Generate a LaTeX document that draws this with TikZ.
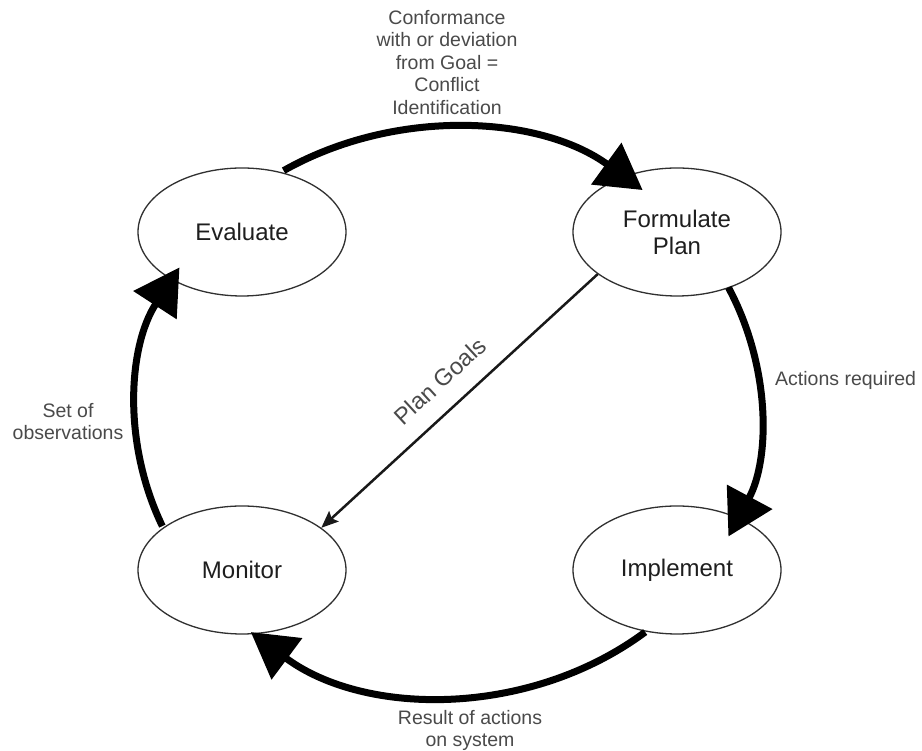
\documentclass[tikz,border=0pt]{standalone}
\usepackage{fontspec}
\setmainfont{Liberation Sans}
\usetikzlibrary{arrows.meta,shapes.geometric,calc}
\definecolor{labelgray}{HTML}{4A4A4A}
\definecolor{textdark}{HTML}{1E1E1E}
\definecolor{edgegray}{HTML}{303030}
\begin{document}
\begin{tikzpicture}[x=1pt,y=1pt,
  phase/.style={ellipse, draw=edgegray, line width=1.3pt, minimum width=208pt,
    minimum height=128pt, inner sep=0pt, font=\fontsize{24}{27}\selectfont,
    text=textdark, align=center},
  cyc/.style={line width=7pt, -{Triangle[length=45pt,width=50pt]}},
  goalline/.style={line width=2.5pt, draw=black!90,
    -{Stealth[length=17pt,width=14pt,inset=3pt]}},
  lbl/.style={font=\fontsize{19.5}{22.5}\selectfont, text=labelgray,
    align=center, inner sep=0pt}]
\fill[white] (0,0) rectangle (922,751);
\useasboundingbox (0,0) rectangle (922,751);

% phase nodes
\node[phase] (evaluate)  at (242,519) {Evaluate};
\node[phase] (plan)      at (677,519) {Formulate\\Plan};
\node[phase] (monitor)   at (242,181) {Monitor};
\node[phase] (implement) at (677,181) {Implement};

% centre of the big cycle ellipse
\coordinate (C) at (448,339);
\coordinate (topstart)    at ($(C)+(121.8:312pt and 284pt)$);
\coordinate (rightstart)  at ($(C)+(26:312pt and 284pt)$);
\coordinate (bottomstart) at ($(C)+(-50.8:312pt and 284pt)$);
\coordinate (leftstart)   at ($(C)+(203.7:312pt and 284pt)$);

% cycle arcs
\draw[cyc] (topstart) arc[start angle=121.8, end angle=51.4, x radius=312pt, y radius=284pt];
\draw[cyc] (rightstart) arc[start angle=26, end angle=-26, x radius=312pt, y radius=284pt];
\draw[cyc] (bottomstart) arc[start angle=-50.8, end angle=-129.2, x radius=312pt, y radius=284pt];
\draw[cyc] (leftstart) arc[start angle=203.7, end angle=149.4, x radius=312pt, y radius=284pt];

% plan goals diagonal
\draw[goalline] (plan.208) -- (monitor.28);
\node[lbl, font=\fontsize{23.5}{26}\selectfont, rotate=42.6] (goals) at (440,370) {Plan Goals};

% labels
\node[lbl] (conf) at (447,688.5) {Conformance\\with or deviation\\from Goal =\\Conflict\\Identification};
\node[lbl, anchor=west] (actions) at (775,371) {Actions required};
\node[lbl] (result) at (470,20.5) {Result of actions\\on system};
\node[lbl] (obs) at (68,329.5) {Set of\\observations};
\end{tikzpicture}
\end{document}
